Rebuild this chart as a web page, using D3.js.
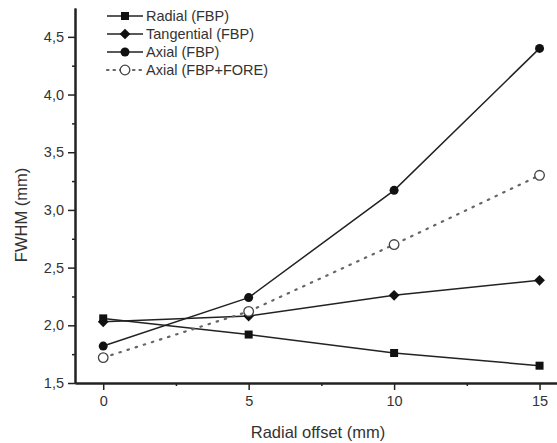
<!DOCTYPE html>
<html><head><meta charset="utf-8">
<script src="https://cdn.jsdelivr.net/npm/d3@7"></script>
<style>body{margin:0;background:#fff;} text{font-family:"Liberation Sans",Arial,sans-serif;fill:#333;}</style>
</head><body><svg id="c" width="557" height="443"></svg>
<script>
const offsets = [0, 5, 10, 15];
const radialFBP = [2.06, 1.92, 1.76, 1.65];
const tangentialFBP = [2.03, 2.08, 2.26, 2.39];
const axialFBP = [1.82, 2.24, 3.17, 4.40];
const axialFORE = [1.72, 2.12, 2.70, 3.30];
const xTicks = [0, 5, 10, 15];
const yTicks = [1.5, 2.0, 2.5, 3.0, 3.5, 4.0, 4.5];
const seriesNames = ["Radial (FBP)", "Tangential (FBP)", "Axial (FBP)", "Axial (FBP+FORE)"];

const svg = d3.select("#c");
const x = d3.scaleLinear().domain([-0.97, 15.6]).range([75, 557]);
const y = d3.scaleLinear().domain([1.5, 4.75]).range([383, 8]);
const col = "#222";

const fmt = d => d3.format(".1f")(d).replace(".", ",");
const yAx = svg.append("g").attr("transform", "translate(75,0)")
  .call(d3.axisLeft(y).tickValues(yTicks).tickFormat(fmt).tickSize(7).tickSizeOuter(0).tickPadding(4));
const yMinor = svg.append("g").attr("transform", "translate(75,0)")
  .call(d3.axisLeft(y).tickValues(d3.range(1.75, 4.75, 0.5)).tickFormat("").tickSize(3).tickSizeOuter(0));
const xAx = svg.append("g").attr("transform", "translate(0,383)")
  .call(d3.axisBottom(x).tickValues(xTicks).tickSize(7).tickSizeOuter(0).tickPadding(6));
const xMinor = svg.append("g").attr("transform", "translate(0,383)")
  .call(d3.axisBottom(x).tickValues([2.5, 7.5, 12.5]).tickFormat("").tickSize(3).tickSizeOuter(0));
[yAx, yMinor, xAx, xMinor].forEach(g => {
  g.selectAll("path").attr("stroke", col).attr("stroke-width", 2);
  g.selectAll("line").attr("stroke", col).attr("stroke-width", 1.5);
  g.selectAll("text").style("font-size", "14.5px").attr("fill", "#333").style("font-family", "Liberation Sans, Arial, sans-serif");
});

svg.append("text").attr("x", 318).attr("y", 438).attr("text-anchor", "middle")
  .style("font-size", "16.5px").text("Radial offset (mm)");
svg.append("text").attr("transform", "translate(27,215) rotate(-90)").attr("text-anchor", "middle")
  .style("font-size", "16.5px").text("FWHM (mm)");

const line = d3.line().x((d, i) => x(offsets[i])).y(d => y(d));
const series = [
  {vals: radialFBP, marker: "square", dash: null},
  {vals: tangentialFBP, marker: "diamond", dash: null},
  {vals: axialFBP, marker: "circle", dash: null},
  {vals: axialFORE, marker: "open", dash: "1.5,7"}
];
function drawMarker(g, type, cx, cy) {
  if (type === "square") g.append("rect").attr("x", cx - 4).attr("y", cy - 4).attr("width", 8).attr("height", 8).attr("fill", "#111");
  else if (type === "diamond") g.append("rect").attr("x", -3.8).attr("y", -3.8).attr("width", 7.6).attr("height", 7.6)
    .attr("transform", `translate(${cx},${cy}) rotate(45)`).attr("fill", "#111");
  else if (type === "circle") g.append("circle").attr("cx", cx).attr("cy", cy).attr("r", 4.5).attr("fill", "#111");
  else g.append("circle").attr("cx", cx).attr("cy", cy).attr("r", 4.8).attr("fill", "#fff").attr("stroke", "#444").attr("stroke-width", 1.3);
}
series.forEach(s => {
  svg.append("path").datum(s.vals).attr("d", line).attr("fill", "none")
    .attr("stroke", s.dash ? "#666" : "#222").attr("stroke-width", s.dash ? 2.2 : 1.5)
    .attr("stroke-dasharray", s.dash).attr("stroke-linecap", s.dash ? "round" : "butt");
  const g = svg.append("g");
  s.vals.forEach((v, i) => drawMarker(g, s.marker, x(offsets[i]), y(v)));
});

const ly = [16, 34, 52, 70];
series.forEach((s, i) => {
  const g = svg.append("g");
  g.append("line").attr("x1", 107).attr("x2", 143).attr("y1", ly[i]).attr("y2", ly[i])
    .attr("stroke", s.dash ? "#666" : "#222").attr("stroke-width", s.dash ? 2.2 : 1.5)
    .attr("stroke-dasharray", s.dash ? "1.5,5" : null).attr("stroke-linecap", s.dash ? "round" : "butt");
  drawMarker(g, s.marker, 125, ly[i]);
  g.append("text").attr("x", 146).attr("y", ly[i] + 5).style("font-size", "14.5px").text(seriesNames[i]);
});
</script></body></html>
